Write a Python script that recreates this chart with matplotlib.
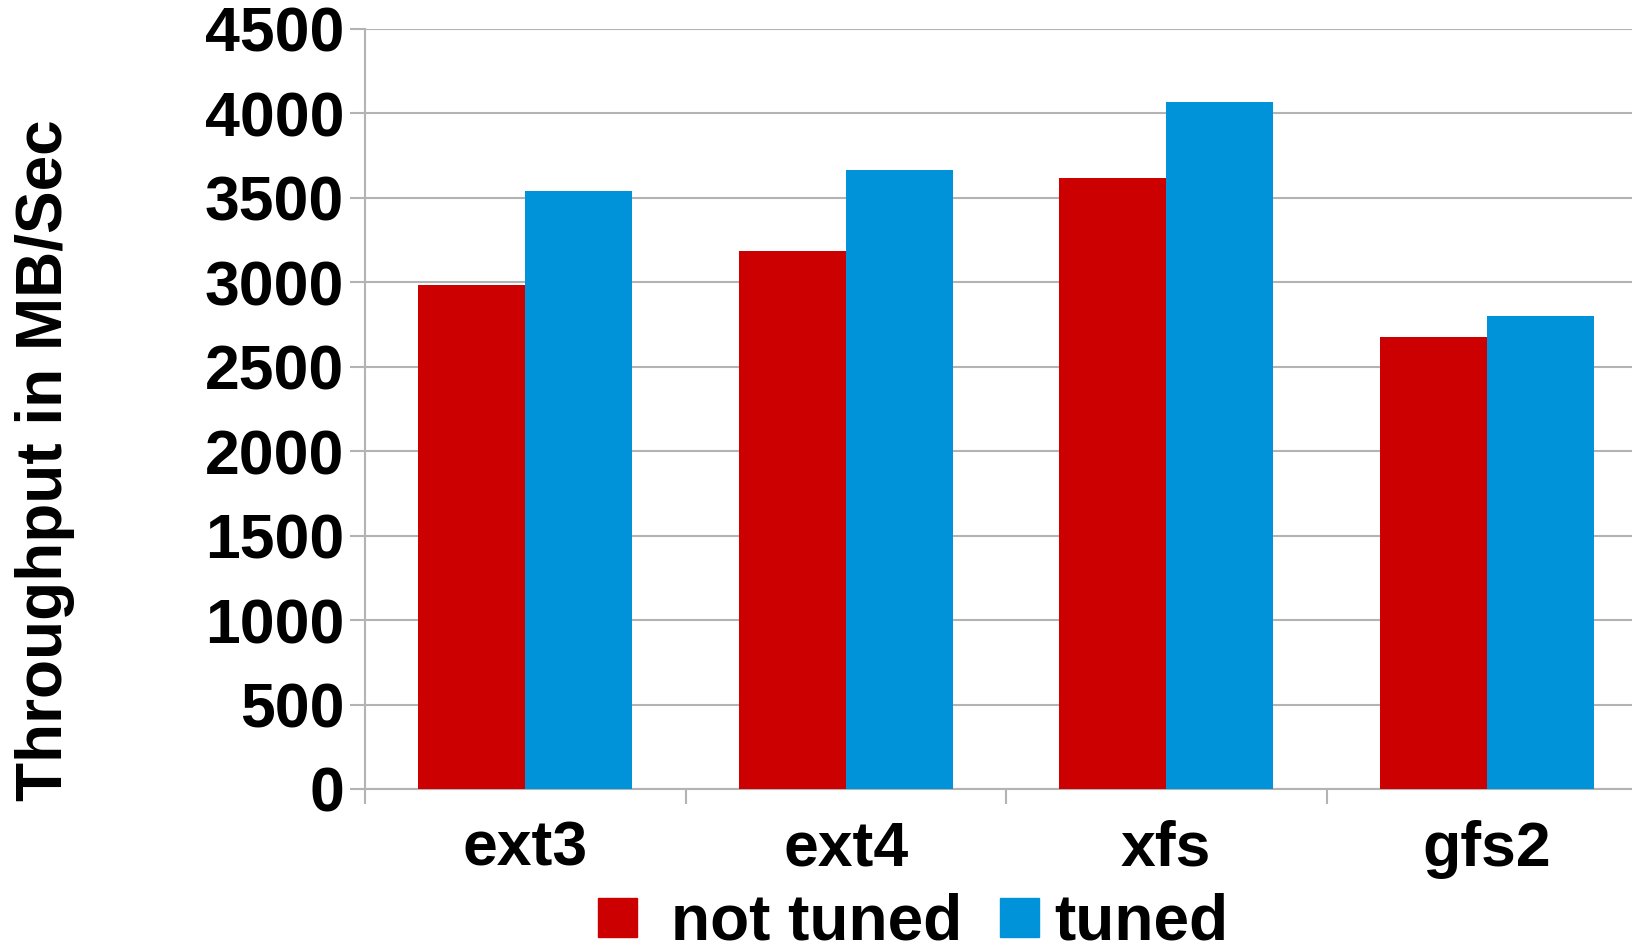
import numpy as np
import matplotlib
matplotlib.use("Agg")
import matplotlib.pyplot as plt
from matplotlib.patches import Rectangle

# throughput per filesystem, MB/s
filesystems = ["ext3", "ext4", "xfs", "gfs2"]
not_tuned = [2985, 3185, 3620, 2675]
tuned = [3540, 3665, 4070, 2800]
series_labels = ["not tuned", "tuned"]
yticks = list(range(0, 4501, 500))

RED = "#cc0000"
BLUE = "#0093d9"
GRID = "#b3b3b3"
FS = 45

plt.rcParams["font.family"] = ["Liberation Sans", "DejaVu Sans"]
plt.rcParams["font.weight"] = "bold"

W, H = 1632, 943
fig = plt.figure(figsize=(W / 100, H / 100), dpi=100)
# plot area runs slightly past the right edge of the canvas
ax = fig.add_axes([365 / W, 154 / H, (1647 - 365) / W, (914 - 154) / H])

x = np.arange(len(filesystems))
bw = 0.334
ax.bar(x - bw / 2, not_tuned, bw, color=RED, zorder=3)
ax.bar(x + bw / 2, tuned, bw, color=BLUE, zorder=3)

ax.set_xlim(-0.5, len(filesystems) - 0.5)
ax.set_ylim(0, 4500)
ax.set_yticks(yticks)
ax.set_yticklabels([str(v) for v in yticks], fontsize=FS, fontweight="bold")
ax.set_xticks(x)
ax.set_xticklabels(filesystems, fontsize=FS, fontweight="bold")
ax.set_xticks(np.arange(-0.5, len(filesystems)), minor=True)

ax.tick_params(axis="x", which="major", length=0, pad=22)
ax.tick_params(axis="x", which="minor", length=11, width=1.5, color=GRID)
ax.tick_params(axis="y", length=11, width=1.5, color=GRID, pad=4)

ax.yaxis.grid(True, color=GRID, linewidth=1.5, zorder=0)
ax.set_axisbelow(True)
for side in ("top", "right"):
    ax.spines[side].set_visible(False)
for side in ("left", "bottom"):
    ax.spines[side].set_color(GRID)
    ax.spines[side].set_linewidth(1.5)

fig.text(45 / W, 1 - 460 / H, "Throughput in MB/Sec", rotation=90,
         ha="center", va="center", fontsize=FS + 1, fontweight="bold")

# legend row along the bottom edge: swatch left edge, text left edge (px)
legend_pos = [(598, 671), (1000, 1054)]
sw = 39
for (sx, tx), lab, col in zip(legend_pos, series_labels, [RED, BLUE]):
    fig.patches.append(Rectangle((sx / W, (H - 937) / H), sw / W, sw / H,
                                 transform=fig.transFigure, color=col))
    fig.text(tx / W, 3 / H, lab, ha="left", va="baseline",
             fontsize=46, fontweight="bold")

fig.savefig("out.png", dpi=100)
